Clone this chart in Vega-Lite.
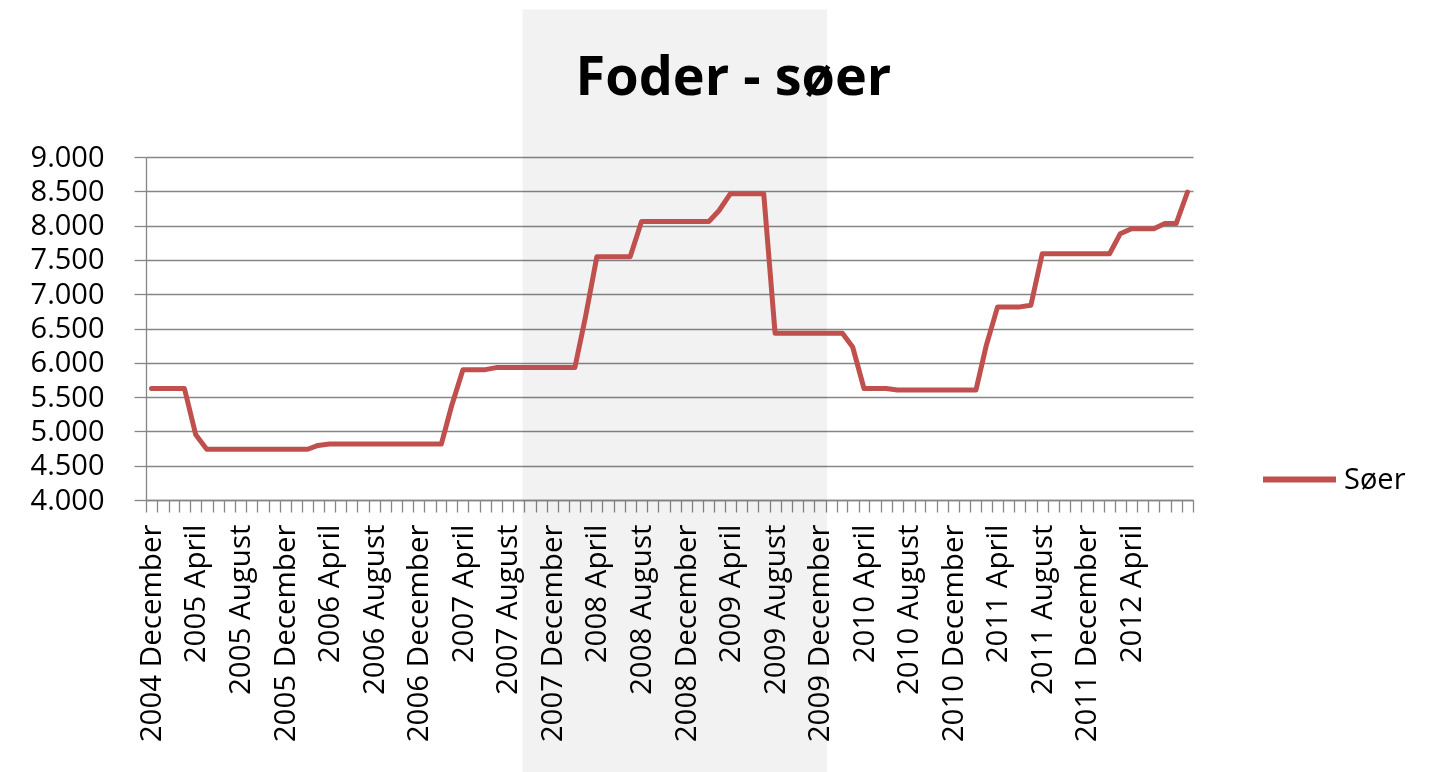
{
  "$schema": "https://vega.github.io/schema/vega-lite/v6.json",
  "width": 1047,
  "height": 343,
  "autosize": {"type": "none"},
  "padding": {"left": 146, "top": 157, "right": 252, "bottom": 272},
  "background": "white",
  "title": {
    "text": "Foder - søer",
    "font": "Open Sans",
    "fontSize": 54,
    "fontWeight": "bold",
    "color": "#000000",
    "anchor": "middle",
    "frame": "group",
    "dx": 64,
    "offset": -139,
    "baseline": "alphabetic"
  },
  "config": {"view": {"stroke": null}, "font": "Open Sans"},
  "layer": [
    {
      "data": {"values": [{"start": "2007-09-26", "end": "2010-01-05"}]},
      "mark": {"type": "rect", "color": "#F2F2F2", "blend": "multiply"},
      "encoding": {
        "x": {"field": "start", "type": "temporal", "title": null,
              "scale": {"type": "utc", "domain": [{"year": 2004, "month": 12, "date": 1, "utc": true}, {"year": 2012, "month": 10, "date": 1, "utc": true}]}},
        "x2": {"field": "end"},
        "y": {
          "datum": 11150, "type": "quantitative", "title": null,
          "scale": {"domain": [4000, 9000], "nice": false, "zero": false},
          "axis": {
            "values": [4000, 4500, 5000, 5500, 6000, 6500, 7000, 7500, 8000, 8500, 9000],
            "labelExpr": "replace(format(datum.value, ','), ',', '.')",
            "labelOverlap": false,
            "labelLimit": 0,
            "grid": true,
            "gridColor": "#868686",
            "gridWidth": 1.3,
            "domainColor": "#868686",
            "domainWidth": 1.3,
            "tickColor": "#868686",
            "tickWidth": 1.3,
            "tickSize": 12,
            "labelPadding": 30,
            "labelFont": "Open Sans",
            "labelFontSize": 29,
            "labelColor": "#000000"
          }
        },
        "y2": {"datum": 0}
      }
    },
    {
      "data": {"values": [
        {"date": "2004-12-16", "serie": "Søer", "value": 5625},
        {"date": "2005-01-16", "serie": "Søer", "value": 5625},
        {"date": "2005-02-16", "serie": "Søer", "value": 5625},
        {"date": "2005-03-16", "serie": "Søer", "value": 5625},
        {"date": "2005-04-16", "serie": "Søer", "value": 4950},
        {"date": "2005-05-16", "serie": "Søer", "value": 4740},
        {"date": "2005-06-16", "serie": "Søer", "value": 4740},
        {"date": "2005-07-16", "serie": "Søer", "value": 4740},
        {"date": "2005-08-16", "serie": "Søer", "value": 4740},
        {"date": "2005-09-16", "serie": "Søer", "value": 4740},
        {"date": "2005-10-16", "serie": "Søer", "value": 4740},
        {"date": "2005-11-16", "serie": "Søer", "value": 4740},
        {"date": "2005-12-16", "serie": "Søer", "value": 4740},
        {"date": "2006-01-16", "serie": "Søer", "value": 4740},
        {"date": "2006-02-16", "serie": "Søer", "value": 4740},
        {"date": "2006-03-16", "serie": "Søer", "value": 4795},
        {"date": "2006-04-16", "serie": "Søer", "value": 4815},
        {"date": "2006-05-16", "serie": "Søer", "value": 4815},
        {"date": "2006-06-16", "serie": "Søer", "value": 4815},
        {"date": "2006-07-16", "serie": "Søer", "value": 4815},
        {"date": "2006-08-16", "serie": "Søer", "value": 4815},
        {"date": "2006-09-16", "serie": "Søer", "value": 4815},
        {"date": "2006-10-16", "serie": "Søer", "value": 4815},
        {"date": "2006-11-16", "serie": "Søer", "value": 4815},
        {"date": "2006-12-16", "serie": "Søer", "value": 4815},
        {"date": "2007-01-16", "serie": "Søer", "value": 4815},
        {"date": "2007-02-16", "serie": "Søer", "value": 4815},
        {"date": "2007-03-16", "serie": "Søer", "value": 5370},
        {"date": "2007-04-16", "serie": "Søer", "value": 5900},
        {"date": "2007-05-16", "serie": "Søer", "value": 5900},
        {"date": "2007-06-16", "serie": "Søer", "value": 5900},
        {"date": "2007-07-16", "serie": "Søer", "value": 5930},
        {"date": "2007-08-16", "serie": "Søer", "value": 5930},
        {"date": "2007-09-16", "serie": "Søer", "value": 5930},
        {"date": "2007-10-16", "serie": "Søer", "value": 5930},
        {"date": "2007-11-16", "serie": "Søer", "value": 5930},
        {"date": "2007-12-16", "serie": "Søer", "value": 5930},
        {"date": "2008-01-16", "serie": "Søer", "value": 5930},
        {"date": "2008-02-16", "serie": "Søer", "value": 5930},
        {"date": "2008-03-16", "serie": "Søer", "value": 6670},
        {"date": "2008-04-16", "serie": "Søer", "value": 7545},
        {"date": "2008-05-16", "serie": "Søer", "value": 7545},
        {"date": "2008-06-16", "serie": "Søer", "value": 7545},
        {"date": "2008-07-16", "serie": "Søer", "value": 7545},
        {"date": "2008-08-16", "serie": "Søer", "value": 8060},
        {"date": "2008-09-16", "serie": "Søer", "value": 8060},
        {"date": "2008-10-16", "serie": "Søer", "value": 8060},
        {"date": "2008-11-16", "serie": "Søer", "value": 8060},
        {"date": "2008-12-16", "serie": "Søer", "value": 8060},
        {"date": "2009-01-16", "serie": "Søer", "value": 8060},
        {"date": "2009-02-16", "serie": "Søer", "value": 8060},
        {"date": "2009-03-16", "serie": "Søer", "value": 8220},
        {"date": "2009-04-16", "serie": "Søer", "value": 8465},
        {"date": "2009-05-16", "serie": "Søer", "value": 8465},
        {"date": "2009-06-16", "serie": "Søer", "value": 8465},
        {"date": "2009-07-16", "serie": "Søer", "value": 8465},
        {"date": "2009-08-16", "serie": "Søer", "value": 6430},
        {"date": "2009-09-16", "serie": "Søer", "value": 6430},
        {"date": "2009-10-16", "serie": "Søer", "value": 6430},
        {"date": "2009-11-16", "serie": "Søer", "value": 6430},
        {"date": "2009-12-16", "serie": "Søer", "value": 6430},
        {"date": "2010-01-16", "serie": "Søer", "value": 6430},
        {"date": "2010-02-16", "serie": "Søer", "value": 6430},
        {"date": "2010-03-16", "serie": "Søer", "value": 6230},
        {"date": "2010-04-16", "serie": "Søer", "value": 5625},
        {"date": "2010-05-16", "serie": "Søer", "value": 5625},
        {"date": "2010-06-16", "serie": "Søer", "value": 5625},
        {"date": "2010-07-16", "serie": "Søer", "value": 5605},
        {"date": "2010-08-16", "serie": "Søer", "value": 5605},
        {"date": "2010-09-16", "serie": "Søer", "value": 5605},
        {"date": "2010-10-16", "serie": "Søer", "value": 5605},
        {"date": "2010-11-16", "serie": "Søer", "value": 5605},
        {"date": "2010-12-16", "serie": "Søer", "value": 5605},
        {"date": "2011-01-16", "serie": "Søer", "value": 5605},
        {"date": "2011-02-16", "serie": "Søer", "value": 5605},
        {"date": "2011-03-16", "serie": "Søer", "value": 6250},
        {"date": "2011-04-16", "serie": "Søer", "value": 6815},
        {"date": "2011-05-16", "serie": "Søer", "value": 6815},
        {"date": "2011-06-16", "serie": "Søer", "value": 6815},
        {"date": "2011-07-16", "serie": "Søer", "value": 6840},
        {"date": "2011-08-16", "serie": "Søer", "value": 7590},
        {"date": "2011-09-16", "serie": "Søer", "value": 7590},
        {"date": "2011-10-16", "serie": "Søer", "value": 7590},
        {"date": "2011-11-16", "serie": "Søer", "value": 7590},
        {"date": "2011-12-16", "serie": "Søer", "value": 7590},
        {"date": "2012-01-16", "serie": "Søer", "value": 7590},
        {"date": "2012-02-16", "serie": "Søer", "value": 7590},
        {"date": "2012-03-16", "serie": "Søer", "value": 7880},
        {"date": "2012-04-16", "serie": "Søer", "value": 7955},
        {"date": "2012-05-16", "serie": "Søer", "value": 7955},
        {"date": "2012-06-16", "serie": "Søer", "value": 7955},
        {"date": "2012-07-16", "serie": "Søer", "value": 8030},
        {"date": "2012-08-16", "serie": "Søer", "value": 8030},
        {"date": "2012-09-16", "serie": "Søer", "value": 8490}
      ]},
      "mark": {"type": "line", "strokeWidth": 5, "strokeJoin": "round", "strokeCap": "round"},
      "encoding": {
        "x": {
          "field": "date", "type": "temporal", "title": null,
          "scale": {"type": "utc", "domain": [{"year": 2004, "month": 12, "date": 1, "utc": true}, {"year": 2012, "month": 10, "date": 1, "utc": true}]},
          "axis": {
            "tickCount": {"interval": "month", "step": 1},
            "labelExpr": "(utcmonth(datum.value) % 4 == 3 && datum.value < utc(2012, 4, 2)) ? utcFormat(datum.value, '%Y %B') : ''",
            "labelAngle": 270,
            "labelAlign": "right",
            "labelBaseline": "middle",
            "labelOffset": 5.6,
            "labelPadding": 12,
            "labelOverlap": false,
            "labelFlush": false,
            "labelLimit": 0,
            "labelFont": "Open Sans",
            "labelFontSize": 29.5,
            "labelColor": "#000000",
            "tickSize": 12,
            "tickColor": "#868686",
            "tickWidth": 1.3,
            "domainColor": "#868686",
            "domainWidth": 1.3,
            "grid": false
          }
        },
        "y": {
          "field": "value", "type": "quantitative", "title": null,
          "scale": {"domain": [4000, 9000], "nice": false, "zero": false},
          "axis": {
            "values": [4000, 4500, 5000, 5500, 6000, 6500, 7000, 7500, 8000, 8500, 9000],
            "labelExpr": "replace(format(datum.value, ','), ',', '.')",
            "labelOverlap": false,
            "labelLimit": 0,
            "grid": true,
            "gridColor": "#868686",
            "gridWidth": 1.3,
            "domainColor": "#868686",
            "domainWidth": 1.3,
            "tickColor": "#868686",
            "tickWidth": 1.3,
            "tickSize": 12,
            "labelPadding": 30,
            "labelFont": "Open Sans",
            "labelFontSize": 29,
            "labelColor": "#000000"
          }
        },
        "color": {
          "field": "serie", "type": "nominal",
          "scale": {"range": ["#C0504D"]},
          "legend": {
            "orient": "none",
            "legendX": 1114,
            "legendY": 283,
            "title": null,
            "padding": 0,
            "symbolType": "stroke",
            "symbolSize": 5329,
            "symbolStrokeWidth": 6,
            "labelFont": "Open Sans",
            "labelFontSize": 29,
            "labelColor": "#000000",
            "labelOffset": 5
          }
        }
      }
    }
  ]
}
